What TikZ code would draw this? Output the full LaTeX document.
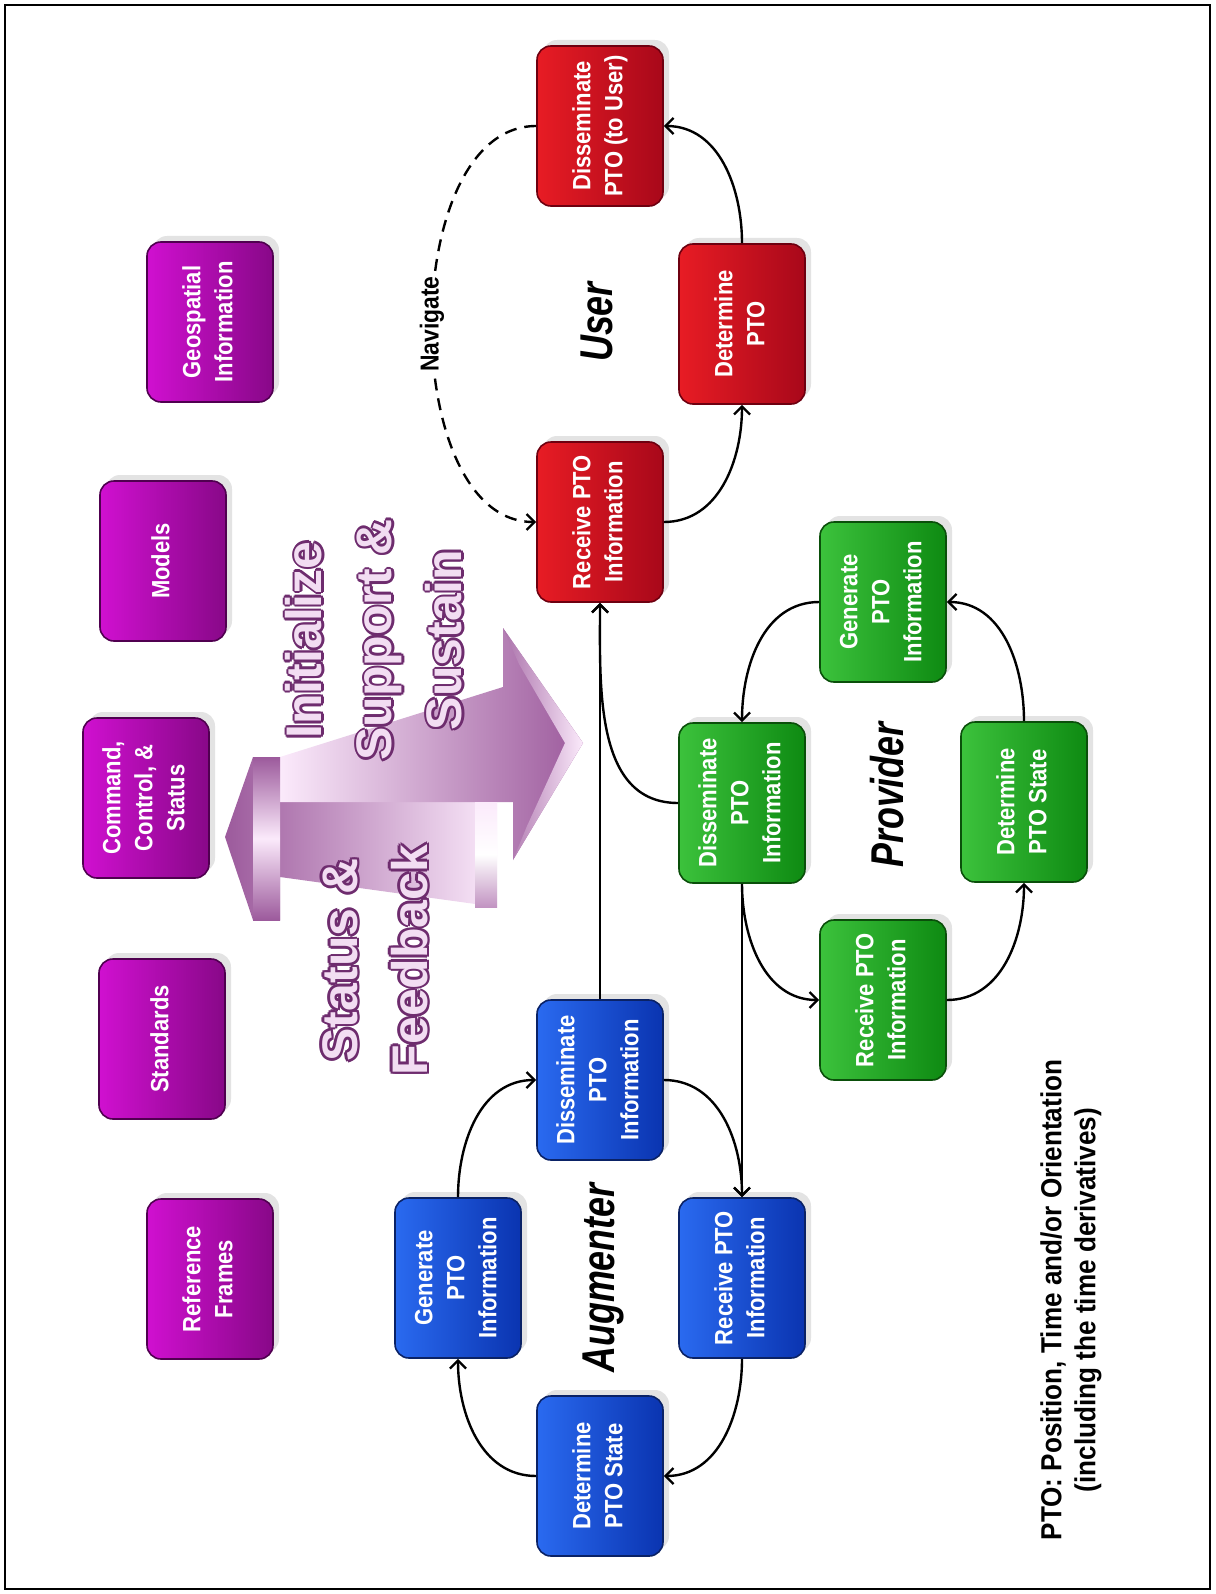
\documentclass[tikz,border=0pt]{standalone}
\usepackage{fontspec}
\usepackage{tikz}
\usetikzlibrary{shadows, arrows.meta}
\newfontfamily\boxfont[FakeStretch=0.88]{Liberation Sans}
\newfontfamily\lblfont[FakeStretch=0.78]{Liberation Sans}
\newfontfamily\notefont[FakeStretch=0.9]{Liberation Sans}
\newfontfamily\bigfont{Liberation Sans}

\definecolor{redL}{HTML}{E81C24}
\definecolor{redD}{HTML}{A8081A}
\definecolor{redB}{HTML}{6E0010}
\definecolor{grnL}{HTML}{3CC23C}
\definecolor{grnD}{HTML}{0E8A12}
\definecolor{grnB}{HTML}{0A4F0A}
\definecolor{bluL}{HTML}{2A6AF0}
\definecolor{bluD}{HTML}{0A34B0}
\definecolor{bluB}{HTML}{0A2266}
\definecolor{purL}{HTML}{D010D0}
\definecolor{purD}{HTML}{880888}
\definecolor{purB}{HTML}{500050}
\definecolor{arrD}{HTML}{9C5A9C}
\definecolor{arrL}{HTML}{FBEAFB}
\definecolor{txtO}{HTML}{6E2C6E}
\definecolor{txtF}{HTML}{F2DDF2}

\newcommand{\rtext}[1]{\rotatebox{90}{\begin{tabular}{@{}c@{}}#1\end{tabular}}}

\tikzset{
    box/.style={rounded corners=7pt, minimum width=63pt, minimum height=80pt, inner sep=0pt,
        text=white, line width=0.8pt, font=\boxfont\fontsize{12.5}{16}\selectfont\bfseries,
        drop shadow={shadow xshift=3pt, shadow yshift=3pt, fill=black!22}},
    redbox/.style={box, draw=redB, left color=redL, right color=redD},
    grnbox/.style={box, draw=grnB, left color=grnL, right color=grnD},
    blubox/.style={box, draw=bluB, left color=bluL, right color=bluD},
    purbox/.style={box, draw=purB, left color=purL, right color=purD},
    grp/.style={rotate=90, font=\lblfont\fontsize{23}{28}\selectfont\bfseries\itshape},
    bigtxt/.style={rotate=90, align=center, font=\bigfont\fontsize{25}{35}\selectfont\bfseries},
    conn/.style={line width=1.2pt, -{Straight Barb[length=4pt, width=8pt]}},
}

\begin{document}
\begin{tikzpicture}[x=0.5pt, y=0.5pt]
\useasboundingbox (0,0) rectangle (1215,-1594);
\draw[line width=1.2pt] (5,-5) rectangle (1210,-1589);

\shade[left color=arrD, right color=arrL] (225,-837) -- (253,-757) -- (280,-757) -- (280,-802) -- (497,-802)
    -- (497,-907) -- (280,-877) -- (280,-920) -- (253,-920) -- cycle;
\shade[left color=arrL, right color=arrD] (280,-757) -- (503,-687) -- (503,-628) -- (583,-743) -- (513,-860)
    -- (513,-802) -- (280,-802) -- cycle;
\shade[left color=arrD!85!white, right color=arrL] (503,-628) -- (583,-743) -- (513,-860) -- (527,-826)
    -- (565,-743) -- (519,-664) -- cycle;
\shade[top color=arrD, bottom color=arrD, middle color=arrL] (253,-757) rectangle (280,-920);
\shade[top color=arrL, bottom color=arrD!60!arrL, middle color=white] (475,-802) rectangle (497,-907);

\foreach \dx/\dy [count=\k] in {1.3/0, -1.3/0, 0/1.3, 0/-1.3, 0.9/0.9, 0.9/-0.9, -0.9/0.9, -0.9/-0.9} {
    \node[bigtxt, text=txtO, xshift=\dx pt, yshift=\dy pt] (initO\k) at (374,-640) {Initialize\\Support \&\\Sustain};
    \node[bigtxt, text=txtO, xshift=\dx pt, yshift=\dy pt] (statO\k) at (375,-960) {Status \&\\Feedback};
}
\node[bigtxt, text=txtF] (init) at (374,-640) {Initialize\\Support \&\\Sustain};
\node[bigtxt, text=txtF] (stat) at (375,-960) {Status \&\\Feedback};

\node[purbox] (geo) at (210,-322) {\rtext{Geospatial\\Information}};
\node[purbox] (mod) at (163,-561) {\rtext{Models}};
\node[purbox] (ccs) at (146,-798) {\rtext{Command,\\Control, \&\\Status}};
\node[purbox] (std) at (162,-1039) {\rtext{Standards}};
\node[purbox] (ref) at (210,-1279) {\rtext{Reference\\Frames}};

\node[redbox] (urecv) at (600,-522) {\rtext{Receive PTO\\Information}};
\node[redbox] (udet) at (742,-324) {\rtext{Determine\\PTO}};
\node[redbox] (udis) at (600,-126) {\rtext{Disseminate\\PTO (to User)}};

\node[grnbox] (pdis) at (742,-803) {\rtext{Disseminate\\PTO\\Information}};
\node[grnbox] (pgen) at (883,-602) {\rtext{Generate\\PTO\\Information}};
\node[grnbox] (precv) at (883,-1000) {\rtext{Receive PTO\\Information}};
\node[grnbox] (pdet) at (1024,-802) {\rtext{Determine\\PTO State}};

\node[blubox] (adis) at (600,-1080) {\rtext{Disseminate\\PTO\\Information}};
\node[blubox] (agen) at (458,-1278) {\rtext{Generate\\PTO\\Information}};
\node[blubox] (arecv) at (742,-1278) {\rtext{Receive PTO\\Information}};
\node[blubox] (adet) at (600,-1476) {\rtext{Determine\\PTO State}};

\node[grp] (user) at (597,-322) {User};
\node[grp] (prov) at (887,-795) {Provider};
\node[grp] (augm) at (603,-1278) {Augmenter};

\node[rotate=90, align=center, font=\notefont\fontsize{14.5}{17}\selectfont\bfseries] (pto) at (1071,-1300)
    {PTO: Position, Time and/or Orientation\\(including the time derivatives)};

\path[conn]
    (urecv) edge[out=0, in=-90] (udet)
    (udet) edge[out=90, in=0] (udis)
    (udis) edge[dash pattern=on 6pt off 4pt, out=180, in=180, looseness=0.9]
        node[fill=white, inner sep=2pt, rotate=90, font=\boxfont\fontsize{13}{15}\selectfont\bfseries] (nav) {Navigate} (urecv)
    (pgen) edge[out=180, in=90] (pdis)
    (pdet) edge[out=90, in=0] (pgen)
    (precv) edge[out=0, in=-90] (pdet)
    (pdis) edge[out=-90, in=180] (precv)
    (pdis) edge[out=180, in=-90] (urecv)
    (pdis) edge (arecv)
    (adis) edge (urecv)
    (adis) edge[out=0, in=90] (arecv)
    (arecv) edge[out=-90, in=0] (adet)
    (adet) edge[out=180, in=-90] (agen)
    (agen) edge[out=90, in=180] (adis);
\end{tikzpicture}
\end{document}
